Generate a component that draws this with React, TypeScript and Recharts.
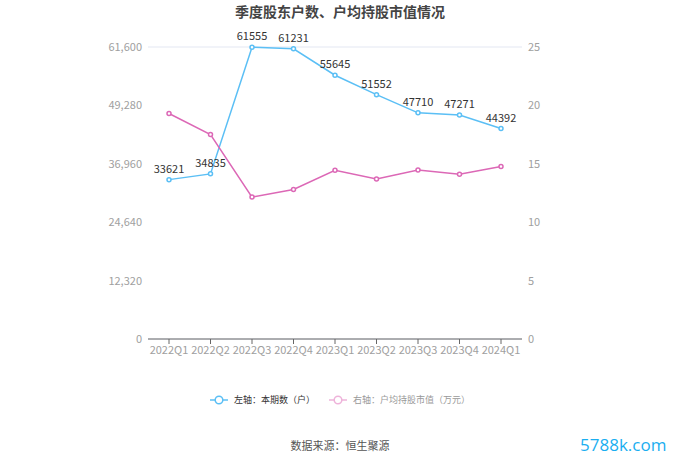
import { LineChart, Line, XAxis, YAxis, CartesianGrid, LabelList } from 'recharts'

const quarters = ['2022Q1', '2022Q2', '2022Q3', '2022Q4', '2023Q1', '2023Q2', '2023Q3', '2023Q4', '2024Q1']
const holders = [33621, 34835, 61555, 61231, 55645, 51552, 47710, 47271, 44392]
const avgValue = [19.31, 17.51, 12.15, 12.8, 14.44, 13.69, 14.46, 14.1, 14.76]
const leftTicks = [0, 12320, 24640, 36960, 49280, 61600]
const rightTicks = [0, 5, 10, 15, 20, 25]

const BLUE = '#5bbff5'
const PINK = '#dc68b6'
const FONT = '"Noto Sans CJK SC", "Noto Sans", sans-serif'

const data = quarters.map((q, i) => ({ q, holders: holders[i], avg: avgValue[i] }))

function LegendBox() {
  const item = (color: string, text: string, textColor: string) => (
    <span style={{ display: 'inline-flex', alignItems: 'center', margin: '0 7px' }}>
      <svg width={18} height={10} style={{ marginRight: 6 }}>
        <line x1={0} y1={5} x2={18} y2={5} stroke={color} strokeWidth={1.5} />
        <circle cx={9} cy={5} r={3.8} fill="#fff" stroke={color} strokeWidth={1.5} />
      </svg>
      <span style={{ color: textColor }}>{text}</span>
    </span>
  )
  return (
    <div style={{ position: 'absolute', top: 393, left: 0, width: 680, textAlign: 'center', fontSize: 9, lineHeight: '14px' }}>
      {item(BLUE, '左轴：本期数（户）', '#333')}
      {item('#eeb3da', '右轴：户均持股市值（万元）', '#999')}
    </div>
  )
}

export default function App() {
  return (
    <div style={{ position: 'absolute', left: 0, top: 0, width: 680, height: 460, background: '#fff', fontFamily: FONT }}>
      <div style={{ position: 'absolute', top: 1, width: 680, textAlign: 'center', fontSize: 14, fontWeight: 'bold', color: '#444' }}>
        季度股东户数、户均持股市值情况
      </div>
      <LineChart width={680} height={460} data={data} margin={{ top: 47, right: 98, bottom: 0, left: 88 }}>
        <CartesianGrid vertical={false} stroke="#e3e7f2" />
        <XAxis
          dataKey="q"
          height={121}
          padding={{ left: 21, right: 21 }}
          tick={{ fontSize: 11, fill: '#a0a0a0' }}
          axisLine={{ stroke: '#666' }}
          tickLine={{ stroke: '#666' }}
          tickSize={5}
          interval={0}
        />
        <YAxis
          yAxisId="left"
          width={60}
          domain={[0, 61600]}
          ticks={leftTicks}
          tickFormatter={(v: number) => v.toLocaleString('en-US')}
          tick={{ fontSize: 11, fill: '#a0a0a0' }}
          axisLine={false}
          tickLine={false}
          tickSize={4}
        />
        <YAxis
          yAxisId="right"
          orientation="right"
          width={60}
          domain={[0, 25]}
          ticks={rightTicks}
          tick={{ fontSize: 11, fill: '#a0a0a0' }}
          axisLine={false}
          tickLine={false}
          tickSize={4}
        />
        <Line
          yAxisId="left"
          dataKey="holders"
          stroke={BLUE}
          strokeWidth={1.5}
          dot={{ r: 2, fill: '#fff', stroke: BLUE, strokeWidth: 1.5 }}
          isAnimationActive={false}
        >
          <LabelList dataKey="holders" position="top" offset={7} style={{ fontSize: 11, fill: '#333' }} />
        </Line>
        <Line
          yAxisId="right"
          dataKey="avg"
          stroke={PINK}
          strokeWidth={1.5}
          dot={{ r: 2, fill: '#fff', stroke: PINK, strokeWidth: 1.5 }}
          isAnimationActive={false}
        />
      </LineChart>
      <LegendBox />
      <div style={{ position: 'absolute', top: 437, width: 680, textAlign: 'center', fontSize: 11, color: '#555' }}>
        数据来源：恒生聚源
      </div>
      <div style={{ position: 'absolute', top: 433, left: 580, fontSize: 17, color: '#1aaef0', fontFamily: '"Open Sans", sans-serif' }}>
        5788k.com
      </div>
    </div>
  )
}
